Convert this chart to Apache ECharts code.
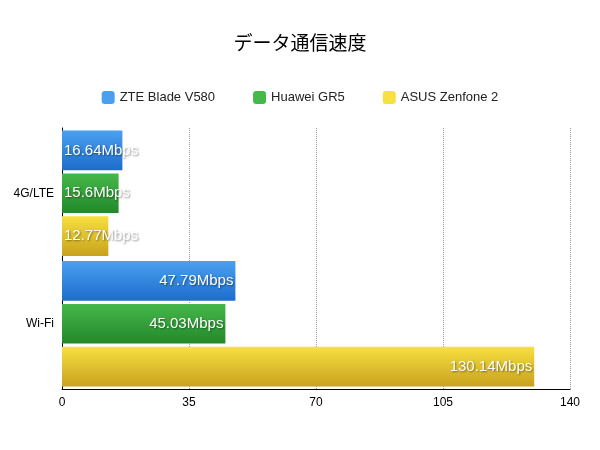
<!DOCTYPE html><html><head><meta charset="utf-8"><script src="https://cdn.jsdelivr.net/npm/echarts@6/dist/echarts.min.js"></script></head><body style="margin:0"><div id="c" style="width:600px;height:450px"></div><script>
const categories=['4G/LTE','Wi-Fi'];
const seriesNames=['ZTE Blade V580','Huawei GR5','ASUS Zenfone 2'];
const zte=[16.64,47.79];
const huawei=[15.6,45.03];
const asus=[12.77,130.14];
const cols=[['#4aa0f0','#1d6ccc'],['#45b84a','#23882a'],['#f7e040','#c8a21e']];
const vals=[zte,huawei,asus];
const grad=c=>new echarts.graphic.LinearGradient(0,0,0,1,[{offset:0,color:c[0]},{offset:1,color:c[1]}]);
const ch=echarts.init(document.getElementById('c'));
ch.setOption({
title:{text:'データ通信速度',left:'center',top:28,textStyle:{fontSize:19,fontWeight:'normal',color:'#000',fontFamily:'Noto Sans CJK JP'}},
legend:{top:86,itemWidth:13,itemHeight:13,itemGap:38,textStyle:{fontSize:13,color:'#222'},data:seriesNames.map((n,i)=>({name:n,itemStyle:{color:cols[i][0]}}))},
grid:{left:62,right:30,top:128,bottom:61},
xAxis:{type:'value',min:0,max:140,interval:35,axisLine:{show:true,lineStyle:{color:'#000'}},axisTick:{show:false},axisLabel:{color:'#000',fontSize:12},splitLine:{lineStyle:{type:'dotted',color:'#999'}}},
yAxis:{type:'category',inverse:true,data:categories,axisLine:{lineStyle:{color:'#000'}},axisTick:{show:false},axisLabel:{color:'#000',fontSize:12}},
series:vals.map((v,i)=>({type:'bar',name:seriesNames[i],barGap:'8%',barCategoryGap:'4%',itemStyle:{color:grad(cols[i])},
data:v.map((x,j)=>({value:x,label:{position:j===0?'insideLeft':'insideRight',distance:2}})),
label:{show:true,formatter:p=>p.value+'Mbps',color:'#fff',fontSize:15,textShadowColor:'rgba(0,0,0,0.45)',textShadowBlur:2,textShadowOffsetX:1,textShadowOffsetY:1}}))
});
</script></body></html>
